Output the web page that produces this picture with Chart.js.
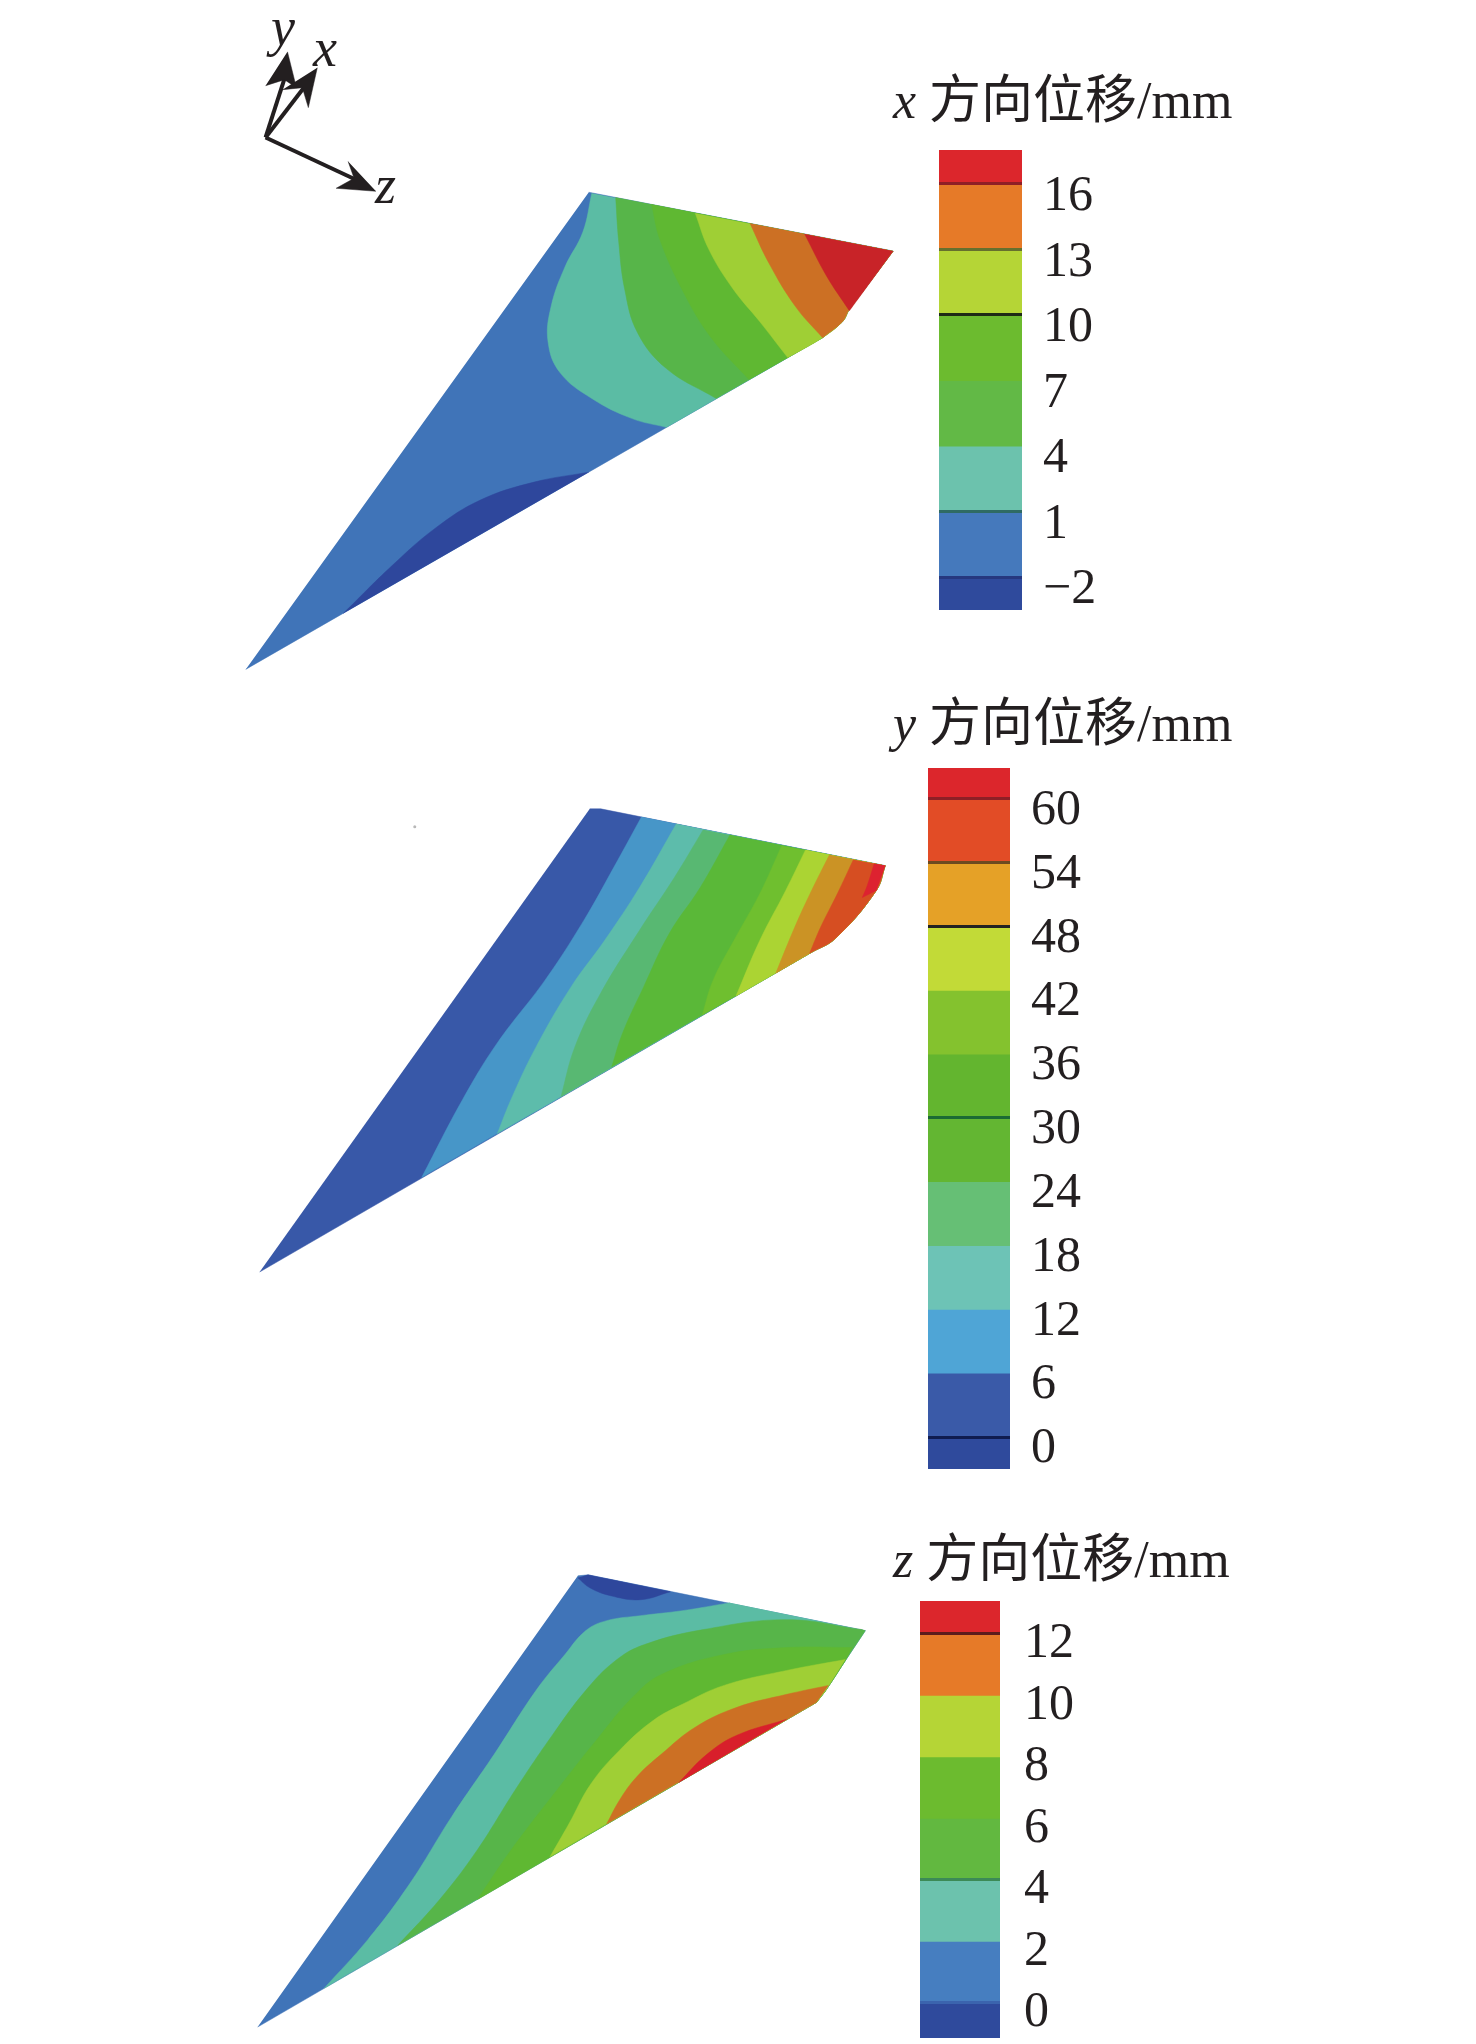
<!DOCTYPE html>
<html>
<head>
<meta charset="utf-8">
<script src="https://cdn.jsdelivr.net/npm/chart.js@4/dist/chart.umd.min.js"></script>
<style>
html, body { margin: 0; background: #fff; }
body { position: relative; width: 1476px; height: 2044px; overflow: hidden; }
canvas { position: absolute; }
.t { position: absolute; white-space: nowrap; line-height: 1; color: #231f20; font-family: "Liberation Serif", "Noto Sans CJK SC", serif; }
.title { font-size: 52px; }
.ax { font-size: 54px; font-style: italic; }
i { font-style: italic; }
</style>
</head>
<body>
<canvas id="field" width="1476" height="2044" style="left:0;top:0"></canvas>
<canvas id="barX" width="300" height="510" style="left:939px;top:140px"></canvas>
<canvas id="barY" width="300" height="730" style="left:928px;top:758px"></canvas>
<canvas id="barZ" width="300" height="453" style="left:920px;top:1591px"></canvas>

<div class="t ax" style="left:271px;top:0px">y</div>
<div class="t ax" style="left:313px;top:21px">x</div>
<div class="t ax" style="left:375px;top:158px">z</div>
<div class="t title" style="left:893px;top:75px"><i>x</i> 方向位移/mm</div>
<div class="t title" style="left:893px;top:698px"><i>y</i> 方向位移/mm</div>
<div class="t title" style="left:893px;top:1534px"><i>z</i> 方向位移/mm</div>

<script>
// x displacement contours, painted from lowest band to highest (page units)
const xBase = [[588,189],[894,248],[849,308],[843,319],[823,335],[243,668]];
const xNavy = [[588,470],[533,480],[479,498],[434,526],[390,564],[341,612]];
const xTeal = [[591,190],[582,229],[564,264],[550,304],[547,339],[559,370],[591,396],[631,416],[666,425],[823,335],[843,319],[849,308],[894,248]];
const xGreen1 = [[615,194],[618,238],[624,286],[637,330],[666,366],[716,396],[823,335],[843,319],[849,308],[894,248]];
const xGreen2 = [[651,201],[660,238],[684,291],[711,335],[749,377],[823,335],[843,319],[849,308],[894,248]];
const xLime = [[695,210],[709,247],[733,286],[760,319],[788,355],[823,335],[843,319],[849,308],[894,248]];
const xOrange = [[750,220],[769,260],[796,304],[823,335],[843,319],[849,308],[894,248]];
const xRed = [[805,231],[827,273],[850,308],[894,248]];
const xShapes = [xBase, xNavy, xTeal, xGreen1, xGreen2, xLime, xOrange, xRed];
const xShapeColors = ['#4074b8', '#2e479c', '#5bbca4', '#57b549', '#5fb832', '#9fcf35', '#cc7024', '#c82328'];

// y displacement contours
const yBase = [[589,808],[600,808],[886,865],[877,890],[836,938],[812,952],[257,1273]];
const yBlue = [[641,816],[613,867],[583,920],[544,980],[496,1043],[461,1100],[420,1178],[812,952],[836,938],[877,890],[886,865]];
const yTeal = [[676,823],[639,887],[604,940],[570,987],[535,1047],[511,1097],[496,1134],[812,952],[836,938],[877,890],[886,865]];
const yGreen1 = [[703,829],[674,877],[639,930],[600,993],[574,1047],[560,1097],[812,952],[836,938],[877,890],[886,865]];
const yGreen2 = [[730,834],[700,887],[669,933],[643,987],[622,1033],[611,1067],[812,952],[836,938],[877,890],[886,865]];
const yGreen3 = [[782,845],[760,893],[734,940],[713,980],[702,1015],[812,952],[836,938],[877,890],[886,865]];
const yLime = [[806,849],[786,890],[760,940],[736,996],[812,952],[836,938],[877,890],[886,865]];
const yAmber = [[830,854],[812,890],[795,927],[776,973],[812,952],[836,938],[877,890],[886,865]];
const yOrange = [[854,859],[838,893],[821,927],[810,953],[836,938],[877,890],[886,865]];
const yRed = [[875,863],[868,885],[863,897],[877,890],[886,865]];
const yShapes = [yBase, yBlue, yTeal, yGreen1, yGreen2, yGreen3, yLime, yAmber, yOrange, yRed];
const yShapeColors = ['#3858a8', '#4796c8', '#5dbcab', '#58b872', '#5ab838', '#6fbf2f', '#abd433', '#cb9325', '#d64e22', '#dd2230'];
const speck = [[413,826]];

// z displacement contours
const zBase = [[577,1578],[587,1577],[866,1633],[846,1663],[827,1692],[817,1705],[255,2031]];
const zNavy = [[577,1580],[589,1590],[610,1598],[640,1602],[670,1594],[587,1577]];
const zTeal = [[730,1605],[682,1613],[640,1618],[606,1623],[585,1633],[564,1657],[535,1693],[493,1757],[450,1820],[408,1887],[366,1943],[322,1992],[817,1705],[827,1692],[846,1663],[866,1633]];
const zGreen1 = [[863,1632],[787,1622],[703,1632],[644,1647],[615,1663],[585,1693],[552,1737],[514,1793],[476,1853],[438,1903],[396,1949],[817,1705],[827,1692],[846,1663],[866,1633]];
const zGreen2 = [[853,1650],[787,1650],[724,1657],[661,1677],[632,1700],[598,1740],[556,1793],[510,1853],[476,1903],[817,1705],[827,1692],[846,1663]];
const zLime = [[846,1662],[787,1673],[724,1688],[682,1707],[653,1723],[619,1753],[590,1787],[568,1827],[549,1860],[817,1705],[827,1692]];
const zOrange = [[829,1688],[787,1697],[737,1710],[695,1730],[661,1757],[636,1780],[619,1803],[606,1827],[817,1705]];
const zRed = [[787,1722],[737,1738],[707,1757],[678,1786]];
const zShapes = [zBase, zNavy, zTeal, zGreen1, zGreen2, zLime, zOrange, zRed];
const zShapeColors = ['#4074b8', '#2e479c', '#5bbca4', '#57b549', '#5fb832', '#9fcf35', '#cc7024', '#d81f2b'];

// coordinate triad
const shaftY = [[263,134],[283,72]];
const shaftX = [[263,134],[303,82]];
const shaftZ = [[263,134],[355,177]];
const headY = [[285,48],[294,84],[282,76],[263,82]];
const headX = [[315,64],[306,104],[300,84],[280,86]];
const headZ = [[374,188],[334,185],[352,175],[346,158]];

// colour bars: band edges, tick labels and band colours, top to bottom
const xEdges = [17.55, 16, 13, 10, 7, 4, 1, -2, -3.5];
const xTicks = [16, 13, 10, 7, 4, 1, -2];
const xBands = ['#dc262c', '#e67a28', '#b5d536', '#6cbb2f', '#62b946', '#6cc2ad', '#4579bc', '#2f4a9c'];
const xSeams = { 16: '#8f1f26', 13: '#66702e', 10: '#1e2a16', 1: '#2f6b63', '-2': '#26387f' };

const yEdges = [62.9, 60, 54, 48, 42, 36, 30, 24, 18, 12, 6, 0, -3];
const yTicks = [60, 54, 48, 42, 36, 30, 24, 18, 12, 6, 0];
const yBands = ['#dc262c', '#e24c26', '#e5a127', '#c2da37', '#84c22e', '#63b52f', '#63b632', '#66bf75', '#6dc3b6', '#4fa5d6', '#3a5aa8', '#2f4a9c'];
const ySeams = { 60: '#8f1f26', 54: '#6c4a20', 48: '#222', 30: '#1c6a34', 0: '#101c50' };

const zEdges = [13.07, 12, 10, 8, 6, 4, 2, 0, -1.14];
const zTicks = [12, 10, 8, 6, 4, 2, 0];
const zBands = ['#dc262c', '#e67a28', '#b5d536', '#6cbb2f', '#62b840', '#6cc2ad', '#467ec0', '#2f4a9c'];
const zSeams = { 12: '#5c1c1c', 4: '#3c8a56', 0: '#3b64ae' };

const CORNER_DEG = 40;
const CORNER_RATIO = 3;

// sharp corners are listed twice so the line tension only rounds the contour curves
function keepCorners(pts) {
    const out = [];
    pts.forEach((p, i) => {
        out.push(p);
        if (i === 0 || i === pts.length - 1) return;
        const a = pts[i - 1], b = pts[i + 1];
        const turn = Math.atan2(b[1] - p[1], b[0] - p[0]) - Math.atan2(p[1] - a[1], p[0] - a[0]);
        const deg = Math.abs(Math.atan2(Math.sin(turn), Math.cos(turn))) * 180 / Math.PI;
        const d1 = Math.hypot(p[0] - a[0], p[1] - a[1]);
        const d2 = Math.hypot(b[0] - p[0], b[1] - p[1]);
        if (deg > CORNER_DEG || Math.max(d1, d2) / Math.min(d1, d2) > CORNER_RATIO) out.push(p);
    });
    return out;
}

const toPoints = pts => pts.map(p => ({ x: p[0], y: p[1] }));

function polygon(pts, color, tension) {
    return {
        data: toPoints(tension ? keepCorners(pts) : pts),
        showLine: true,
        fill: 'shape',
        tension: tension,
        backgroundColor: color,
        borderColor: color,
        borderWidth: 0.5,
        pointRadius: 0
    };
}

function shaft(pts) {
    return {
        data: toPoints(pts),
        showLine: true,
        fill: false,
        borderColor: '#231f20',
        borderWidth: 4,
        pointRadius: 0
    };
}

const fieldSets = [];
[[xShapes, xShapeColors], [yShapes, yShapeColors], [zShapes, zShapeColors]].forEach(([shapes, colors]) => {
    shapes.forEach((s, i) => fieldSets.push(polygon(s, colors[i], i === 0 ? 0 : 0.4)));
});
[shaftY, shaftX, shaftZ].forEach(s => fieldSets.push(shaft(s)));
[headY, headX, headZ].forEach(s => fieldSets.push(polygon(s, '#231f20', 0)));
fieldSets.push({
    data: toPoints(speck),
    pointRadius: 1.5,
    pointBackgroundColor: '#b8b8b8',
    pointBorderWidth: 0
});

// draw in array order, first dataset at the bottom
fieldSets.forEach((d, i) => { d.order = fieldSets.length - i; });

new Chart(document.getElementById('field'), {
    type: 'scatter',
    data: { datasets: fieldSets },
    options: {
        responsive: false,
        animation: false,
        layout: { padding: 0 },
        plugins: { legend: { display: false }, tooltip: { enabled: false } },
        scales: {
            x: { type: 'linear', min: 0, max: 1476, display: false },
            y: { type: 'linear', min: 0, max: 2044, reverse: true, display: false }
        }
    }
});

function colorBar(id, edges, ticks, bands, seams, barWidth, padTop, padBottom, labelShift, labelGap) {
    const canvas = document.getElementById(id);
    new Chart(canvas, {
        type: 'bar',
        data: {
            labels: [''],
            datasets: bands.map((c, i) => ({
                data: [[edges[i + 1], edges[i]]],
                backgroundColor: c,
                grouped: false,
                barPercentage: 1,
                categoryPercentage: 1
            }))
        },
        options: {
            responsive: false,
            animation: false,
            layout: { padding: { top: padTop, bottom: padBottom } },
            plugins: { legend: { display: false }, tooltip: { enabled: false } },
            scales: {
                x: { display: false },
                y: {
                    position: 'right',
                    min: edges[edges.length - 1],
                    max: edges[0],
                    afterBuildTicks: ax => { ax.ticks = ticks.map(v => ({ value: v })); },
                    afterFit: ax => {
                        ax.width = canvas.width - barWidth;
                        ax.paddingTop = 0;
                        ax.paddingBottom = 0;
                    },
                    border: { display: false },
                    grid: {
                        z: 1,
                        drawTicks: false,
                        lineWidth: 3,
                        color: c => seams[c.tick.value] || 'rgba(0,0,0,0)'
                    },
                    ticks: {
                        autoSkip: false,
                        padding: labelGap,
                        labelOffset: labelShift,
                        color: '#231f20',
                        font: { family: '"Liberation Serif", serif', size: 50 },
                        callback: v => (v < 0 ? '\u2212' + (-v) : String(v))
                    }
                }
            }
        }
    });
}

colorBar('barX', xEdges, xTicks, xBands, xSeams, 83, 10, 40, 13, 21);
colorBar('barY', yEdges, yTicks, yBands, ySeams, 82, 10, 19, 12, 21);
colorBar('barZ', zEdges, zTicks, zBands, zSeams, 80, 10, 6, 10, 24);
</script>
</body>
</html>
